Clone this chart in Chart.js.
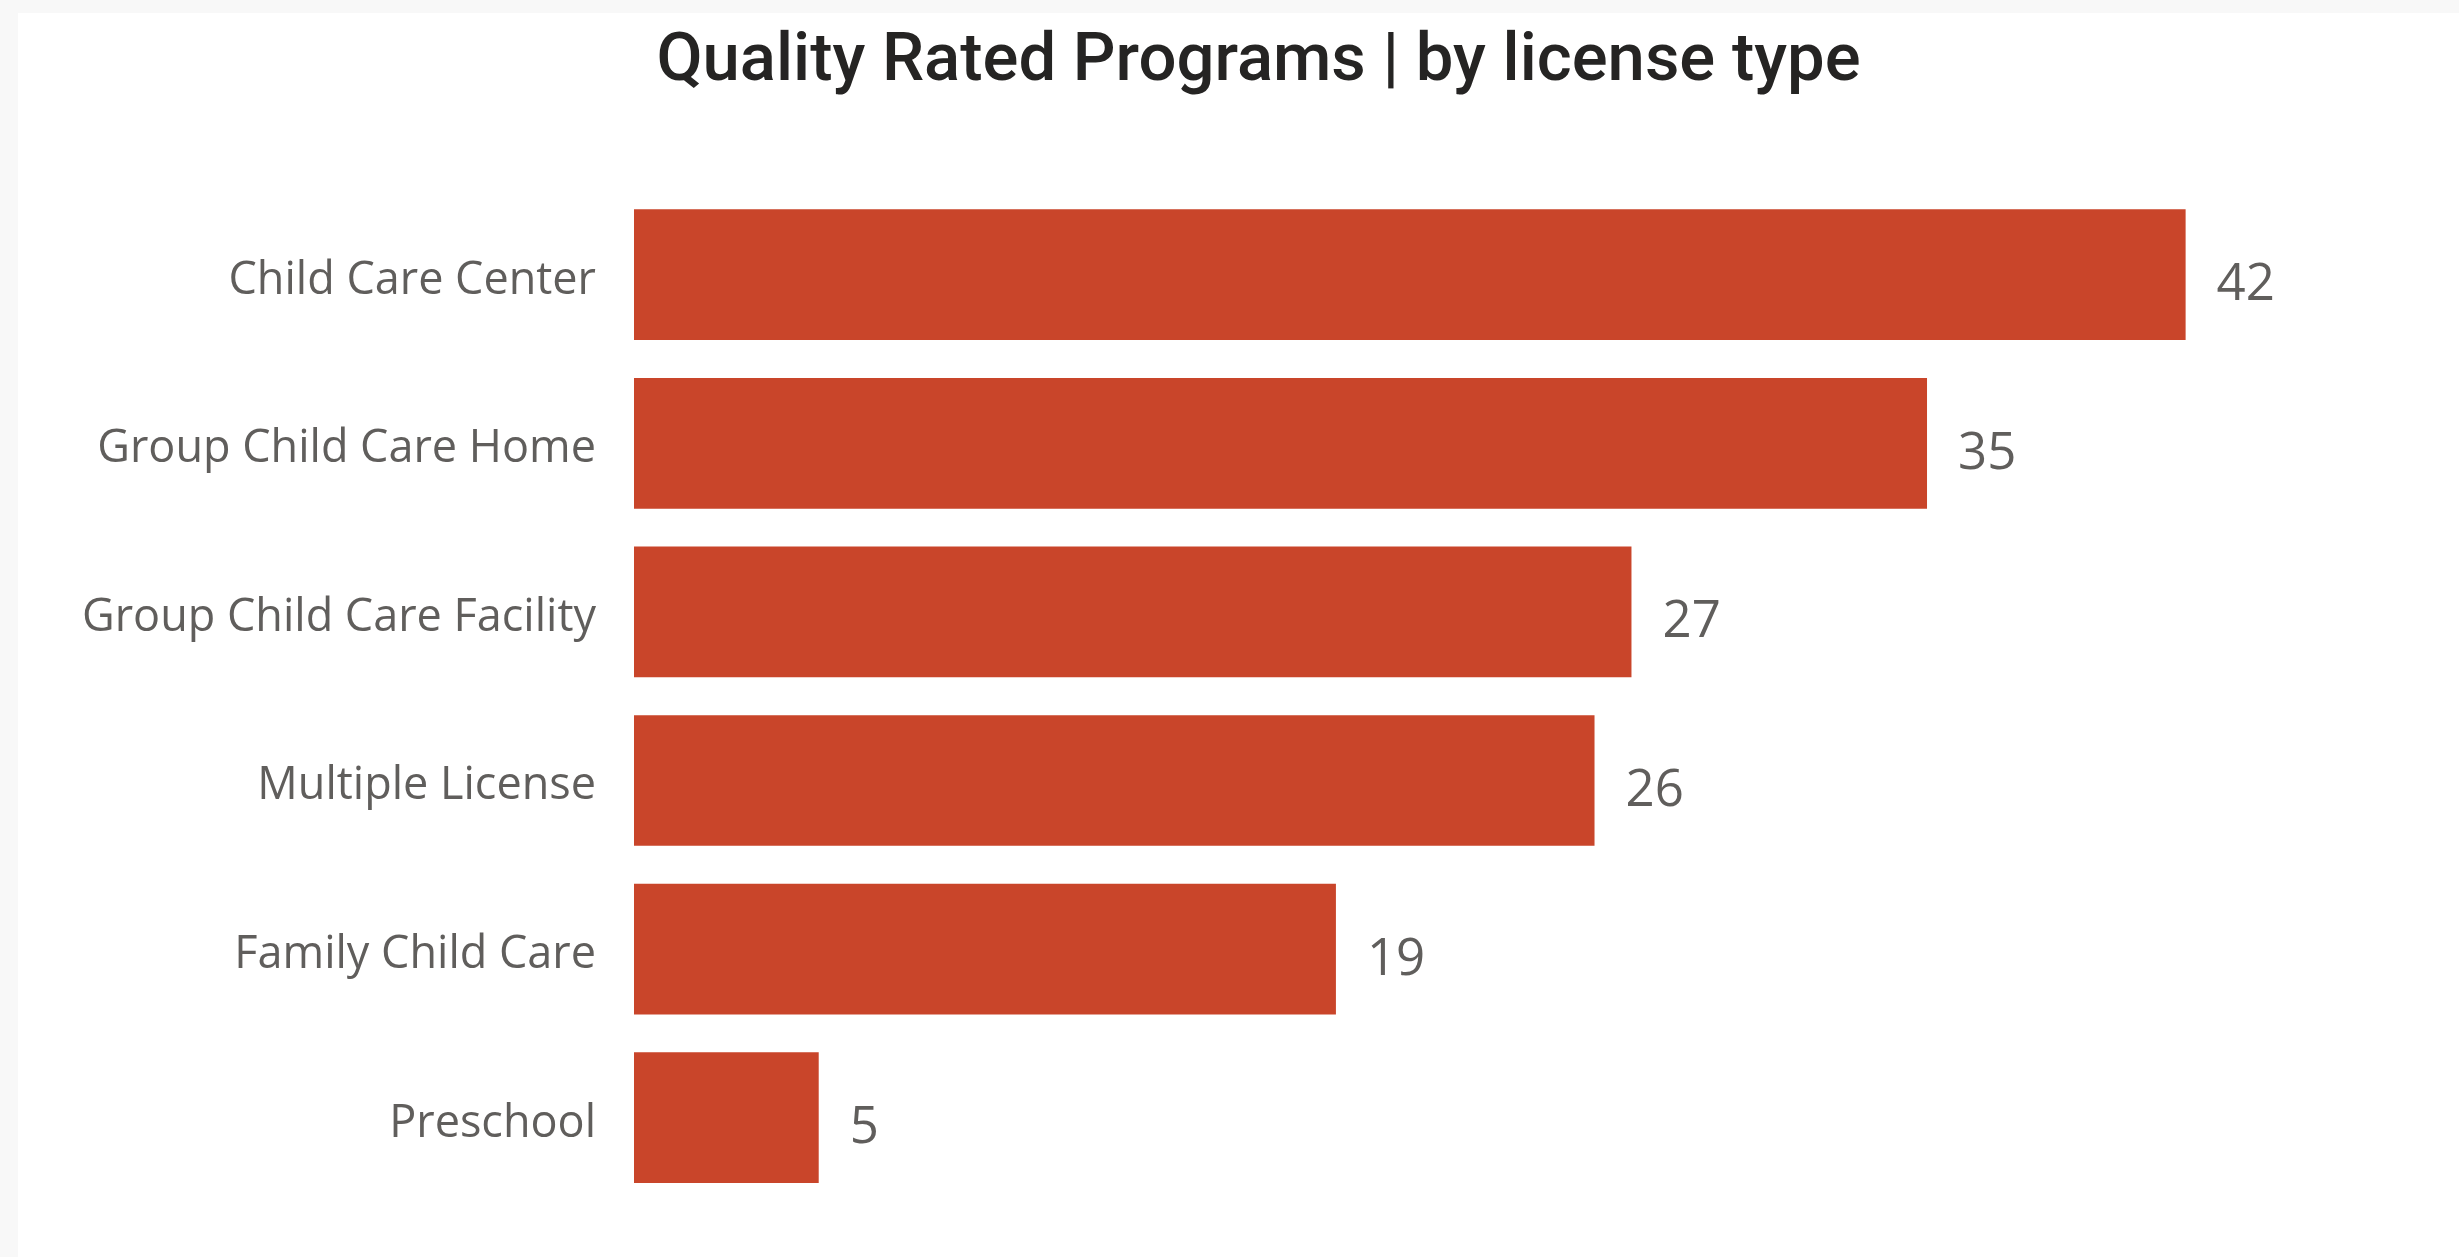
<!DOCTYPE html>
<html>
<head>
<meta charset="utf-8">
<script src="https://cdn.jsdelivr.net/npm/chart.js@4.4.1/dist/chart.umd.min.js"></script>
<style>
  html, body { margin: 0; padding: 0; background: #f8f8f8; }
  #wrap { position: absolute; left: 18px; top: 13px; width: 2441px; height: 1244px; background: #ffffff; }
</style>
</head>
<body>
<div id="wrap"><canvas id="chart"></canvas></div>
<script>
// license types and number of quality rated programs
const licenseTypes = ['Child Care Center', 'Group Child Care Home', 'Group Child Care Facility', 'Multiple License', 'Family Child Care', 'Preschool'];
const programCounts = [42, 35, 27, 26, 19, 5];

const barColor = '#C9452A';
const labelColor = '#605E5C';

// draws the count to the right of each bar
const valueLabels = {
  id: 'valueLabels',
  afterDatasetsDraw: function(chart) {
    const ctx = chart.ctx;
    const meta = chart.getDatasetMeta(0);
    ctx.save();
    ctx.font = '51px "Open Sans"';
    ctx.fillStyle = labelColor;
    ctx.textAlign = 'left';
    ctx.textBaseline = 'middle';
    meta.data.forEach(function(bar, i) {
      ctx.fillText(programCounts[i], bar.x + 31, bar.y + 11);
    });
    ctx.restore();
  }
};

const canvas = document.getElementById('chart');
canvas.width = 2441;
canvas.height = 1244;

new Chart(canvas.getContext('2d'), {
  type: 'bar',
  data: {
    labels: licenseTypes,
    datasets: [{
      data: programCounts,
      backgroundColor: barColor,
      categoryPercentage: 1,
      barPercentage: 0.775
    }]
  },
  options: {
    indexAxis: 'y',
    responsive: false,
    animation: false,
    layout: { padding: { left: 40, right: 0, top: 0, bottom: 55 } },
    plugins: {
      legend: { display: false },
      tooltip: { enabled: false },
      title: {
        display: true,
        text: 'Quality Rated Programs | by license type',
        color: '#252423',
        font: { family: 'Roboto', size: 67, weight: '500', lineHeight: 1.2 },
        padding: { top: 10, bottom: 87 }
      }
    },
    scales: {
      x: {
        display: false,
        min: 0,
        max: 49.4
      },
      y: {
        grid: { display: false, drawTicks: false },
        border: { display: false },
        ticks: {
          color: labelColor,
          font: { family: 'Open Sans', size: 45 },
          padding: 38,
          labelOffset: 6
        },
        afterFit: function(scale) {
          scale.width = 576;
          scale.paddingTop = 0;
          scale.paddingBottom = 0;
        }
      }
    }
  },
  plugins: [valueLabels]
});
</script>
</body>
</html>
